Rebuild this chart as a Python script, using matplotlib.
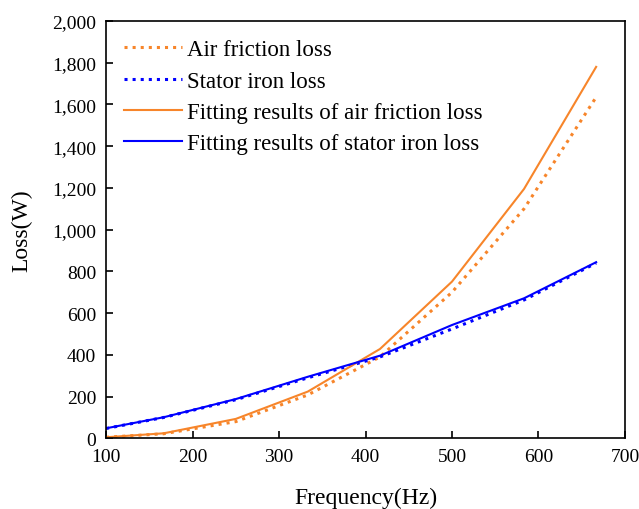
import numpy as np
import matplotlib.pyplot as plt

plt.rcParams['font.family'] = 'Liberation Serif'

freq = [100, 166.7, 250, 333.3, 416.7, 500, 583.3, 666.7]
air_loss = [5, 22, 80, 208, 390, 700, 1100, 1635]
iron_loss = [47, 100, 185, 290, 390, 524, 663, 840]
air_fit = [5, 24, 93, 224, 428, 751, 1195, 1780]
iron_fit = [48, 101, 188, 295, 396, 543, 671, 844]

orange = '#f7852a'
blue = '#0000ff'

fig = plt.figure(figsize=(6.39, 5.10), dpi=100)
ax = fig.add_axes([0.166, 0.1386, 0.812, 0.8183])

ax.plot(freq, air_loss, color=orange, linestyle=':', linewidth=2.2, label='Air friction loss')
ax.plot(freq, iron_loss, color=blue, linestyle=':', linewidth=2.2, label='Stator iron loss')
ax.plot(freq, air_fit, color=orange, linewidth=1.5, label='Fitting results of air friction loss')
ax.plot(freq, iron_fit, color=blue, linewidth=1.5, label='Fitting results of stator iron loss')

ax.set_xlim(100, 700)
ax.set_ylim(0, 2000)
ax.set_xticks(np.arange(100, 701, 100))
ax.set_yticks(np.arange(0, 2001, 200))
ax.set_yticklabels([f'{v:,}' for v in range(0, 2001, 200)])
ax.tick_params(direction='in', length=5, width=1.2, labelsize=14, pad=7, top=False, right=False)
for s in ax.spines.values():
    s.set_linewidth(1.2)

ax.set_xlabel('Frequency(Hz)', fontsize=17, labelpad=16)
ax.set_ylabel('Loss(W)', fontsize=17, labelpad=14)

ax.legend(loc='upper left', frameon=False, fontsize=16.5, handlelength=2.5,
          handletextpad=0.22, labelspacing=0.45, borderaxespad=0.4)

fig.savefig('out.png', dpi=100)
